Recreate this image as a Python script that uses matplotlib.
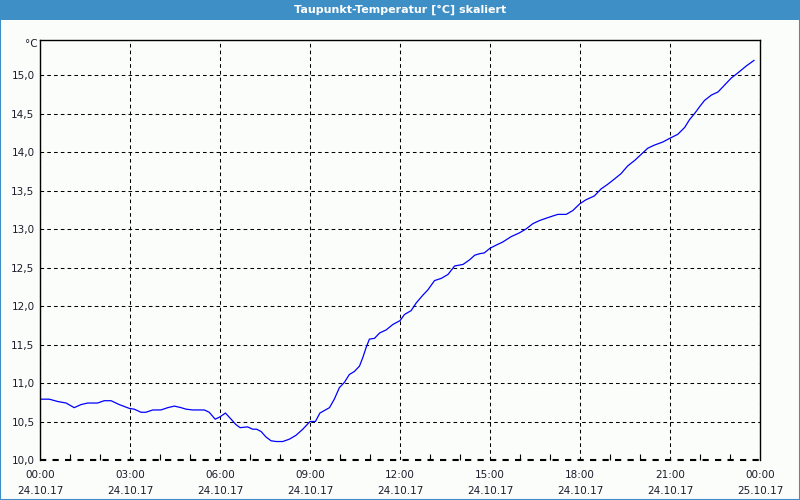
import matplotlib
matplotlib.use("Agg")
import matplotlib.pyplot as plt
from matplotlib.patches import Rectangle

# hours since 24.10.17 00:00 and dew point values
hours = [0.0, 0.31, 0.59, 0.87, 1.14, 1.37, 1.59, 1.92, 2.14, 2.37, 2.64, 2.98,
         3.14, 3.37, 3.53, 3.76, 4.03, 4.26, 4.48, 4.7, 4.87, 5.09, 5.48, 5.64,
         5.84, 6.0, 6.18, 6.37, 6.53, 6.67, 6.92, 7.09, 7.22, 7.37, 7.53, 7.7,
         7.87, 8.09, 8.31, 8.53, 8.76, 9.0, 9.18, 9.33, 9.65, 9.81, 9.98, 10.15,
         10.31, 10.48, 10.65, 10.76, 10.87, 10.98, 11.15, 11.32, 11.54, 11.76,
         12.0, 12.15, 12.37, 12.54, 12.76, 12.93, 13.15, 13.38, 13.6, 13.82,
         14.1, 14.32, 14.49, 14.66, 14.81, 15.0, 15.2, 15.42, 15.7, 15.98, 16.2,
         16.43, 16.65, 16.87, 17.1, 17.26, 17.54, 17.76, 18.0, 18.2, 18.48,
         18.7, 18.92, 19.15, 19.37, 19.59, 19.82, 20.04, 20.26, 20.48, 20.76,
         21.0, 21.26, 21.49, 21.65, 21.82, 21.99, 22.15, 22.38, 22.6, 22.82,
         23.04, 23.27, 23.55, 23.8]
values = [10.79, 10.79, 10.76, 10.74, 10.68, 10.72, 10.74, 10.74, 10.77, 10.77,
          10.72, 10.67, 10.66, 10.62, 10.62, 10.65, 10.65, 10.68, 10.70, 10.68,
          10.66, 10.65, 10.65, 10.62, 10.53, 10.56, 10.61, 10.53, 10.46, 10.42,
          10.43, 10.40, 10.40, 10.37, 10.30, 10.25, 10.24, 10.24, 10.27, 10.32,
          10.40, 10.50, 10.50, 10.61, 10.68, 10.79, 10.94, 11.01, 11.11, 11.15,
          11.22, 11.33, 11.46, 11.57, 11.58, 11.65, 11.69, 11.76, 11.81, 11.89,
          11.94, 12.04, 12.14, 12.21, 12.33, 12.36, 12.41, 12.52, 12.54, 12.60,
          12.66, 12.68, 12.69, 12.75, 12.79, 12.83, 12.90, 12.95, 13.00, 13.07,
          13.11, 13.14, 13.17, 13.19, 13.19, 13.24, 13.33, 13.38, 13.43, 13.52,
          13.58, 13.65, 13.72, 13.82, 13.89, 13.97, 14.05, 14.09, 14.13, 14.18,
          14.23, 14.32, 14.42, 14.50, 14.59, 14.67, 14.74, 14.78, 14.87, 14.96,
          15.03, 15.12, 15.19]

x_ticks = [0, 3, 6, 9, 12, 15, 18, 21, 24]
x_labels = ["00:00\n24.10.17", "03:00\n24.10.17", "06:00\n24.10.17",
            "09:00\n24.10.17", "12:00\n24.10.17", "15:00\n24.10.17",
            "18:00\n24.10.17", "21:00\n24.10.17", "00:00\n25.10.17"]
y_ticks = [10.0, 10.5, 11.0, 11.5, 12.0, 12.5, 13.0, 13.5, 14.0, 14.5, 15.0]

bg = "#fbfdfb"
bar = "#3d8fc6"
txt = "#1c1c2c"

fig = plt.figure(figsize=(8, 5), dpi=100, facecolor=bg)
ax = fig.add_axes([0.05, 0.08, 0.90, 0.84], facecolor=bg)

ax.plot(hours, values, color="#0000ff", lw=0.9)

ax.set_xlim(0, 24)
ax.set_ylim(10.0, 15.455)
ax.set_xticks(x_ticks)
ax.set_xticklabels(x_labels, fontsize=7.5, color=txt, linespacing=1.75)
ax.set_xticks(range(25), minor=True)
ax.set_yticks(y_ticks)
ax.set_yticklabels([("%.1f" % v).replace(".", ",") for v in y_ticks],
                   fontsize=7.5, color=txt)
ax.tick_params(axis="both", which="major", length=0, pad=4)
ax.tick_params(axis="x", which="major", pad=7)
ax.tick_params(axis="x", which="minor", direction="in", length=4, width=0.8)

ax.grid(True, which="major", color="black", linestyle=(0, (3.5, 3)), lw=0.75)
ax.axhline(10.0, color="black", linestyle=(0, (3, 3)), lw=1.5, clip_on=False)
for s in ["left", "top", "right"]:
    ax.spines[s].set_linewidth(1.0)
ax.spines["bottom"].set_visible(False)

fig.text(0.047, 1 - 44 / 500, "°C", fontsize=7.5, color=txt, ha="right", va="center")

# title bar and outer frame
fig.patches.append(Rectangle((0, 1 - 20 / 500), 1, 20 / 500, transform=fig.transFigure,
                             facecolor=bar, edgecolor="none", zorder=0))
fig.patches.append(Rectangle((0.0006, 0.001), 0.9988, 0.998, transform=fig.transFigure,
                             facecolor="none", edgecolor=bar, lw=1.5, zorder=5))
fig.text(0.5, 1 - 10 / 500, "Taupunkt-Temperatur [°C] skaliert", fontsize=8,
         fontweight="bold", color="white", ha="center", va="center")

fig.savefig("out.png", dpi=100, facecolor=bg)
